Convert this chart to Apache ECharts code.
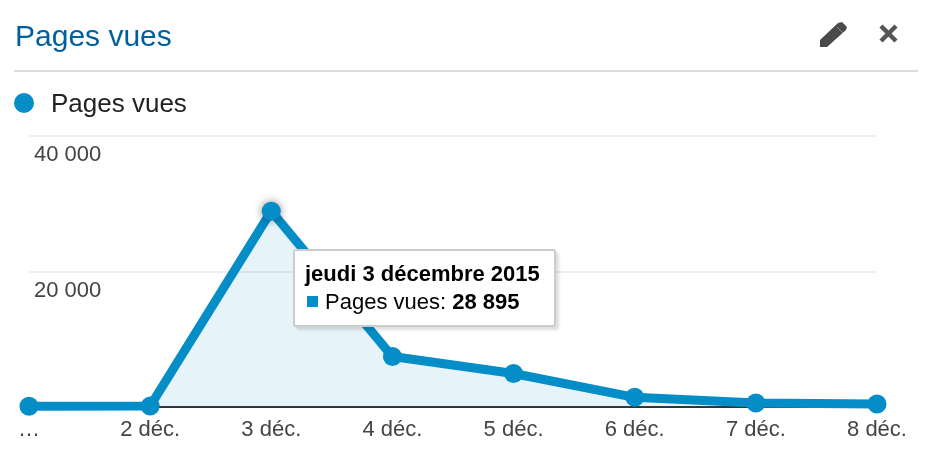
<!DOCTYPE html>
<html><head><meta charset="utf-8">
<script src="https://cdn.jsdelivr.net/npm/echarts@6/dist/echarts.min.js"></script>
<style>html,body{margin:0;padding:0;background:#fff}#c{width:928px;height:462px}</style>
</head><body><div id="c"></div>
<script>
const titleText = 'Pages vues';
const seriesName = 'Pages vues';
const categories = ['…','2 déc.','3 déc.','4 déc.','5 déc.','6 déc.','7 déc.','8 déc.'];
const values = [120,130,28895,7450,4950,1430,600,450];
const yTicks = [0,20000,40000];
const tipDate = 'jeudi 3 décembre 2015';
const tipValue = '28 895';
const tipIndex = 2;
const blue = '#058DC7';
const font = "'Liberation Sans', Arial, sans-serif";
const chart = echarts.init(document.getElementById('c'), null, {renderer:'canvas'});
chart.setOption({
  animation:false,
  textStyle:{fontFamily:font},
  title:{text:titleText,left:10,top:18,textStyle:{color:'#00609f',fontSize:30,fontWeight:'normal',fontFamily:font}},
  legend:{left:14,top:92,icon:'circle',itemWidth:20,itemHeight:20,padding:0,
    formatter:n=>`{t|${n}}`,
    textStyle:{color:'#222',fontSize:26,fontFamily:font,padding:[0,0,0,12],
      rich:{t:{color:'#222',fontSize:26,fontFamily:font,padding:[4,0,0,0]}}},data:[seriesName],selectedMode:false},
  grid:{left:29,right:51,top:136,bottom:55,containLabel:false},
  tooltip:{trigger:'item',alwaysShowContent:true,showDelay:0,hideDelay:0,transitionDuration:0,
    position:[293,249],padding:0,borderWidth:0,backgroundColor:'transparent',extraCssText:'box-shadow:none;',
    formatter:()=>`<div style="box-sizing:border-box;width:263px;height:78px;background:#fff;border:2px solid #ccc;border-radius:3px;box-shadow:3px 3px 3px rgba(0,0,0,.13);padding:9px 0 0 10px;font:22px/28px ${font};color:#000;white-space:nowrap"><b>${tipDate}</b><br><span style="display:inline-block;width:11px;height:11px;background:${blue};margin:0 7px 2px 2px"></span>${seriesName}: <b>${tipValue}</b></div>`},
  xAxis:{type:'category',boundaryGap:false,data:categories,
    axisLine:{show:true,onZero:true,lineStyle:{color:'#333',width:2}},axisTick:{show:false},
    axisLabel:{interval:0,color:'#444',fontSize:22,margin:12,fontFamily:font,hideOverlap:false,showMinLabel:true,showMaxLabel:true},splitLine:{show:false}},
  yAxis:{type:'value',min:yTicks[0],max:yTicks[2],interval:yTicks[1],
    axisLine:{show:false},axisTick:{show:false},
    splitLine:{show:true,lineStyle:{color:'#eeeeee',width:2}},
    axisLabel:{inside:true,verticalAlign:'top',margin:5,padding:[8,0,0,0],color:'#444',fontSize:22,fontFamily:font,
      formatter:v=>v===0?'':String(v).replace(/\B(?=(\d{3})+$)/g,' ')}},
  series:[{name:seriesName,type:'line',clip:false,smooth:false,symbol:'circle',symbolSize:19,showSymbol:true,showAllSymbols:true,z:5,
    lineStyle:{color:blue,width:9,join:'round'},itemStyle:{color:blue},
    areaStyle:{color:'rgba(5,141,199,0.1)',opacity:1},
    emphasis:{disabled:true},
    data:values.map((v,i)=>i===tipIndex?{value:v,itemStyle:{color:blue,shadowBlur:8,shadowColor:'rgba(0,0,0,.45)'}}:v)}],
  graphic:[
    {type:'rect',shape:{x:14,y:70,width:904,height:2},style:{fill:'#dddddd'},silent:true},
    {type:'polygon',silent:true,shape:{points:[[820,40],[820,47],[827,47],[846,30],[847,27],[842,22],[838,23]]},style:{fill:'#4a4a4a'}},
    {type:'line',silent:true,shape:{x1:837,y1:27,x2:843,y2:33},style:{stroke:'#8a8a8a',lineWidth:1}},
    {type:'line',silent:true,shape:{x1:881,y1:26,x2:896,y2:41},style:{stroke:'#555',lineWidth:4.5}},
    {type:'line',silent:true,shape:{x1:896,y1:26,x2:881,y2:41},style:{stroke:'#555',lineWidth:4.5}}
  ]
});
chart.dispatchAction({type:'showTip',seriesIndex:0,dataIndex:tipIndex});
</script></body></html>
